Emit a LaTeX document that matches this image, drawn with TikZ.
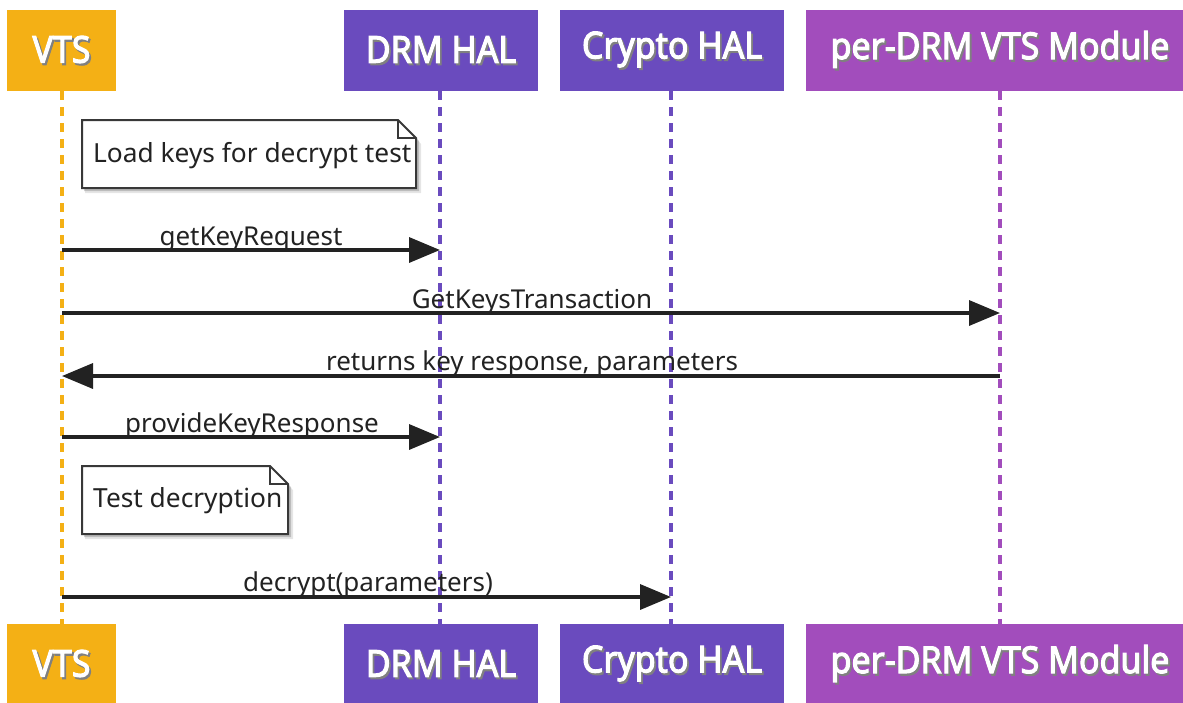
\documentclass[tikz,border=0pt]{standalone}
\usepackage{fontspec}
\setmainfont{Noto Sans}
\newfontfamily\hdrfont{Noto Sans}[FakeBold=3]
\usetikzlibrary{arrows.meta}
\definecolor{vtsorange}{HTML}{F4B015}
\definecolor{halpurple}{HTML}{6A4BBE}
\definecolor{modpurple}{HTML}{A24DBC}
\definecolor{ink}{HTML}{222222}
\newcommand{\hdrtxt}[1]{\scalebox{1}[1.09]{\rlap{\hspace{1.8pt}\raisebox{-2pt}{\color{black!50}#1}}{\color{white}#1}}}
\tikzset{
  hdr/.style={rectangle, inner sep=0pt, minimum height=81pt, text=white,
    font=\hdrfont\fontsize{34}{40}\selectfont},
  life/.style={line width=4.8pt, dash pattern=on 9pt off 7pt},
  msg/.style={line width=3.5pt, draw=ink, -{Triangle[length=31pt,width=25pt]}},
  msglabel/.style={anchor=base, inner sep=0pt, text=ink, font=\fontsize{26}{30}\selectfont},
  notebox/.style={draw=ink!90, line width=2pt, fill=white, line join=miter},
  notetxt/.style={anchor=west, inner sep=0pt, text=ink, font=\fontsize{26.3}{30}\selectfont},
}
\begin{document}
\begin{tikzpicture}[x=1pt,y=-1pt]
\useasboundingbox (0,0) rectangle (1183,702);
% participants top
\node[hdr, fill=vtsorange, minimum width=109pt] (vtsT) at (61.5,50.5) {\hdrtxt{VTS}};
\node[hdr, fill=halpurple, minimum width=194pt] (drmT) at (441,50.5) {\hdrtxt{DRM HAL}};
\node[hdr, fill=halpurple, minimum width=224pt] (cryT) at (672,50.5) {\hdrtxt{Crypto HAL}};
\node[hdr, fill=modpurple, minimum width=388pt] (modT) at (1000,50.5) {\hdrtxt{per-DRM VTS Module}};
% participants bottom
\node[hdr, fill=vtsorange, minimum width=109pt] (vtsB) at (61.5,664.5) {\hdrtxt{VTS}};
\node[hdr, fill=halpurple, minimum width=194pt] (drmB) at (441,664.5) {\hdrtxt{DRM HAL}};
\node[hdr, fill=halpurple, minimum width=224pt] (cryB) at (672,664.5) {\hdrtxt{Crypto HAL}};
\node[hdr, fill=modpurple, minimum width=388pt] (modB) at (1000,664.5) {\hdrtxt{per-DRM VTS Module}};
% lifelines
\coordinate (vtsL1) at (62,91); \coordinate (vtsL2) at (62,624);
\coordinate (drmL1) at (440,91); \coordinate (drmL2) at (440,624);
\coordinate (cryL1) at (671,91); \coordinate (cryL2) at (671,624);
\coordinate (modL1) at (1000,91); \coordinate (modL2) at (1000,624);
\draw[life, vtsorange] (vtsL1) -- (vtsL2);
\draw[life, halpurple] (drmL1) -- (drmL2);
\draw[life, halpurple] (cryL1) -- (cryL2);
\draw[life, modpurple] (modL1) -- (modL2);
% note 1
\fill[black, opacity=0.10] (85,124) -- (401,124) -- (421,144) -- (421,193) -- (85,193) -- cycle;
\fill[black, opacity=0.18] (84,122) -- (400,122) -- (419,141) -- (419,191) -- (84,191) -- cycle;
\draw[notebox] (82,120) -- (398,120) -- (416,138) -- (416,188) -- (82,188) -- cycle;
\draw[ink!90, line width=1.5pt] (398,120) -- (398,138) -- (416,138);
\node[notetxt] (note1) at (93,156) {Load keys for decrypt test};
% note 2
\fill[black, opacity=0.10] (85,470) -- (273,470) -- (293,490) -- (293,539) -- (85,539) -- cycle;
\fill[black, opacity=0.18] (84,468) -- (272,468) -- (291,487) -- (291,537) -- (84,537) -- cycle;
\draw[notebox] (82,466) -- (270,466) -- (288,484) -- (288,534) -- (82,534) -- cycle;
\draw[ink!90, line width=1.5pt] (270,466) -- (270,484) -- (288,484);
\node[notetxt] (note2) at (93,501) {Test decryption};
% messages
\coordinate (m1a) at (62,250); \coordinate (m1b) at (440,250);
\coordinate (m2a) at (62,313); \coordinate (m2b) at (1000,313);
\coordinate (m3a) at (1000,376); \coordinate (m3b) at (62,376);
\coordinate (m4a) at (62,437); \coordinate (m4b) at (440,437);
\coordinate (m5a) at (62,597); \coordinate (m5b) at (671,597);
\draw[msg] (m1a) -- (m1b);
\draw[msg] (m2a) -- (m2b);
\draw[msg] (m3a) -- (m3b);
\draw[msg] (m4a) -- (m4b);
\draw[msg] (m5a) -- (m5b);
\node[msglabel] (l1) at (251,245) {getKeyRequest};
\node[msglabel] (l2) at (532,308) {GetKeysTransaction};
\node[msglabel] (l3) at (532,370) {returns key response, parameters};
\node[msglabel] (l4) at (252,432) {provideKeyResponse};
\node[msglabel] (l5) at (368,591) {decrypt(parameters)};
\end{tikzpicture}
\end{document}
